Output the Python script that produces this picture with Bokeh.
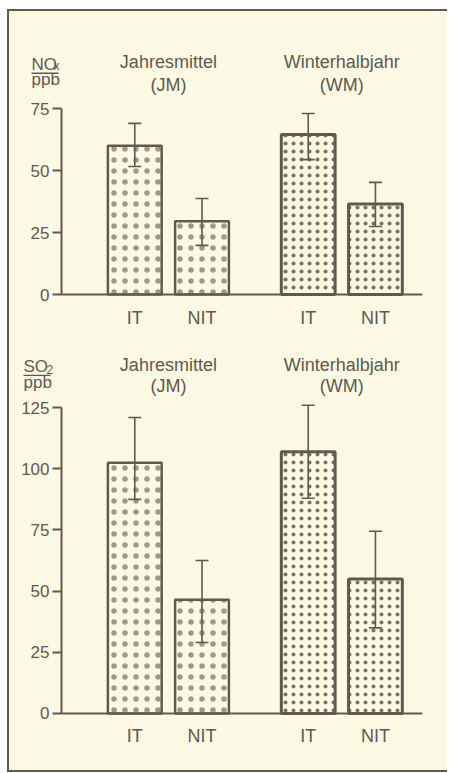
from bokeh.plotting import figure
from bokeh.models import (FactorRange, Range1d, FixedTicker, ColumnDataSource,
                          Whisker, TeeHead, Label, BoxAnnotation)
from bokeh.layouts import column
from bokeh.core.properties import value
from bokeh.embed import file_html
from bokeh.resources import INLINE

# ---- data ----
groups = ["JM", "WM"]
group_titles = ["Jahresmittel", "Winterhalbjahr"]
group_abbrev = ["(JM)", "(WM)"]
sites = ["IT", "NIT"]

nox_mean = [60.0, 29.5, 64.5, 36.5]
nox_upper = [69.0, 38.7, 73.0, 45.2]
nox_lower = [51.6, 19.8, 54.4, 27.4]
nox_ticks = [0, 25, 50, 75]

so2_mean = [102.5, 46.5, 107.0, 55.0]
so2_upper = [121.0, 62.5, 126.0, 74.5]
so2_lower = [87.5, 29.0, 88.0, 35.0]
so2_ticks = [0, 25, 50, 75, 100, 125]

BG = "#fcfae4"
INK = "#625850"
FONT = "Liberation Sans"

factors = [(g, s) for g in groups for s in sites]
# an empty slot before the first group leaves room for the unit label
axis_factors = [(groups[0], " ")] + factors

PAD = 0.2            # range padding (synthetic units)
AXIS_AT = 0.41       # y-axis position (synthetic x)
X_END = len(axis_factors) + 0.58 + PAD


def panel(mean, upper, lower, ticks, ybot, ytop, height, b_top, b_bottom,
          t1_y, t2_y, lab_main, lab_sub, lab_x, lab_y, sub_dx, sub_y,
          line_top, line_right, ppb_y):
    p = figure(
        x_range=FactorRange(*axis_factors, factor_padding=0.0,
                            group_padding=0.58, range_padding=PAD,
                            range_padding_units="absolute"),
        y_range=Range1d(ybot, ytop),
        width=438, height=height, output_backend="svg", toolbar_location=None,
        min_border_left=11, min_border_right=25, min_border_top=b_top,
        min_border_bottom=b_bottom,
    )
    p.background_fill_color = BG
    p.border_fill_color = BG
    p.outline_line_color = None
    p.grid.visible = False

    ya = p.yaxis[0]
    ya.fixed_location = AXIS_AT
    ya.ticker = FixedTicker(ticks=ticks)
    ya.bounds = (0, ticks[-1])
    ya.axis_line_color = INK
    ya.axis_line_width = 2
    ya.major_tick_line_color = INK
    ya.major_tick_line_width = 2
    ya.major_tick_in = 0
    ya.major_tick_out = 9
    ya.minor_tick_line_color = None
    ya.major_label_text_font = FONT
    ya.major_label_text_font_size = "17px"
    ya.major_label_text_color = INK
    ya.major_label_standoff = 3

    xa = p.xaxis[0]
    xa.fixed_location = 0
    xa.bounds = (AXIS_AT, X_END)
    xa.axis_line_color = INK
    xa.axis_line_width = 2
    xa.major_tick_line_color = None
    xa.minor_tick_line_color = None
    xa.major_label_text_font = FONT
    xa.major_label_text_font_size = "18px"
    xa.major_label_text_color = INK
    xa.major_label_standoff = 7
    xa.group_text_alpha = 0
    xa.group_text_font_size = "1px"
    xa.separator_line_color = None

    styles = {"JM": dict(hatch_scale=11, line_width=2.5, hatch_alpha=0.6),
              "WM": dict(hatch_scale=8, line_width=3, hatch_alpha=0.85)}
    for g in groups:
        idx = [i for i, f in enumerate(factors) if f[0] == g]
        src = ColumnDataSource(dict(x=[factors[i] for i in idx],
                                    top=[mean[i] for i in idx]))
        p.vbar(x="x", top="top", bottom=0, width=0.8, source=src,
               fill_color=BG, line_color=INK, hatch_pattern="dot",
               hatch_color=INK, hatch_weight=0.3, **styles[g])

    wsrc = ColumnDataSource(dict(x=factors, upper=upper, lower=lower))
    w = Whisker(base="x", upper="upper", lower="lower", source=wsrc,
                line_color=INK, line_width=1.6,
                upper_head=TeeHead(size=13, line_color=INK, line_width=1.6),
                lower_head=TeeHead(size=13, line_color=INK, line_width=1.6))
    w.level = "overlay"
    p.add_layout(w)

    first_in_group = [(g, sites[0]) for g in groups]
    p.text(x=first_in_group, y=t1_y, text=group_titles, x_offset=33.6,
           text_align="center", text_baseline="alphabetic",
           text_font=value(FONT), text_font_size="18px", text_color=INK)
    p.text(x=first_in_group, y=t2_y, text=group_abbrev, x_offset=33.6,
           text_align="center", text_baseline="alphabetic",
           text_font=value(FONT), text_font_size="18px", text_color=INK)

    p.add_layout(Label(x=lab_x, y=lab_y, x_units="screen", y_units="data",
                       text=lab_main, text_font=FONT, text_font_size="17px",
                       text_color=INK, text_baseline="alphabetic"))
    p.add_layout(Label(x=lab_x + sub_dx, y=sub_y, x_units="screen",
                       y_units="data", text=lab_sub, text_font=FONT,
                       text_font_size="12px", text_color=INK,
                       text_baseline="alphabetic"))
    p.add_layout(BoxAnnotation(left=lab_x, right=line_right,
                               left_units="screen", right_units="screen",
                               top=line_top, bottom=line_top - 0.6,
                               fill_color=INK, fill_alpha=1, line_color=None,
                               level="overlay"))
    p.add_layout(Label(x=lab_x, y=ppb_y, x_units="screen", y_units="data",
                       text="ppb", text_font=FONT, text_font_size="17px",
                       text_color=INK, text_baseline="alphabetic"))
    return p


p1 = panel(nox_mean, nox_upper, nox_lower, nox_ticks, -14.1, 100, 319, 35, 1,
           93.9, 84.3, "NO", "x", 11, 92.7, 22, 92.0, 89.5, 38, 86.7)
p2 = panel(so2_mean, so2_upper, so2_lower, so2_ticks, -22.9, 150, 440, 16, 1,
           142.4, 133.9, "SO", "2", 3, 141.7, 23, 140.6, 138.5, 30, 135.2)

layout = column(p1, p2, spacing=0, styles={
    "margin-left": "7px",
    "margin-top": "9px",
    "border-left": f"2px solid {INK}",
    "border-top": f"2px solid {INK}",
    "border-bottom": f"2px solid {INK}",
    "background-color": BG,
})

open("out.html", "w").write(file_html(layout, INLINE))
